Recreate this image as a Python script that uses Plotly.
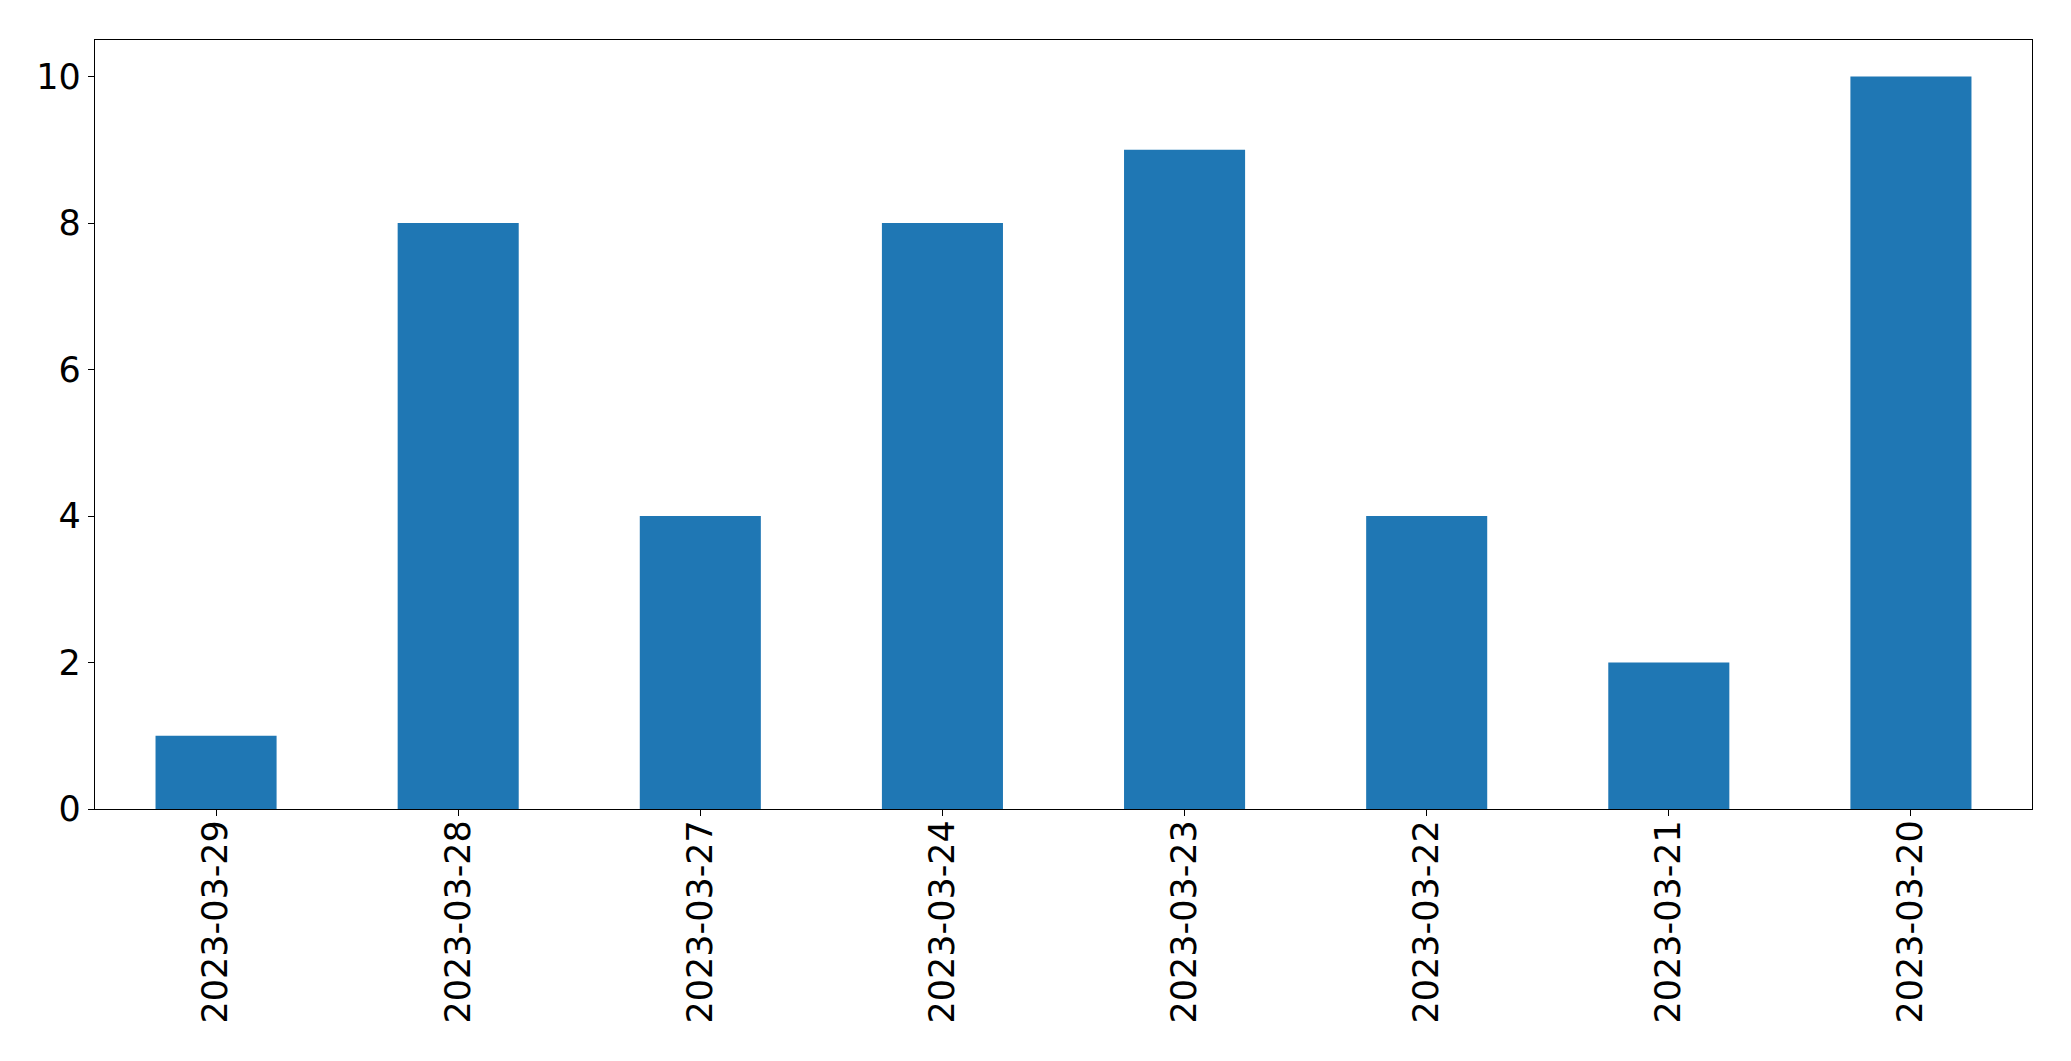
import plotly.graph_objects as go

dates = ["2023-03-29", "2023-03-28", "2023-03-27", "2023-03-24",
         "2023-03-23", "2023-03-22", "2023-03-21", "2023-03-20"]
counts = [1, 8, 4, 8, 9, 4, 2, 10]
y_ticks = [0, 2, 4, 6, 8, 10]

fig = go.Figure(go.Bar(x=dates, y=counts, marker_color="#1f77b4",
                       marker_line_width=0, width=0.5))

fig.update_layout(
    width=2071, height=1061,
    margin=dict(l=87, r=47, t=32, b=260, autoexpand=False),
    plot_bgcolor="white", paper_bgcolor="white",
    font=dict(family="DejaVu Sans", size=35, color="black"),
    showlegend=False,
)
fig.update_xaxes(type="category", range=[-0.5, 7.5], tickangle=-90,
                 showline=True, linecolor="black", linewidth=1.3, mirror=True,
                 ticks="outside", ticklen=6, tickwidth=1.3, tickcolor="black",
                 ticklabelstandoff=-10,
                 showgrid=False, zeroline=False)
fig.update_yaxes(range=[0, 10.5], tickvals=y_ticks,
                 showline=True, linecolor="black", linewidth=1.3, mirror=True,
                 ticks="outside", ticklen=6, tickwidth=1.3, tickcolor="black",
                 showgrid=False, zeroline=False)

fig.write_html("out.html")
